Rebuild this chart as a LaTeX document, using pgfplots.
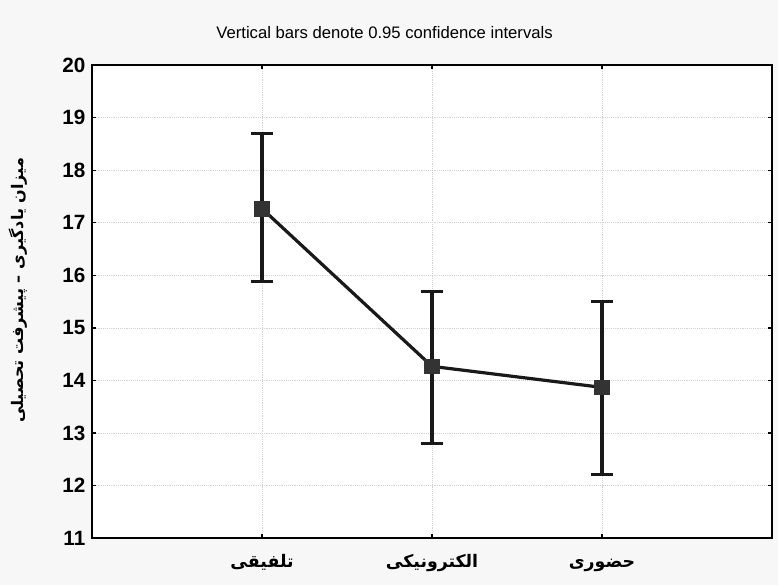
\documentclass[border=0pt]{standalone}
\usepackage{fontspec}
\setmainfont{Liberation Sans}
\newfontfamily\fa[Script=Arabic]{DejaVu Sans}
\TeXXeTstate=1
\usepackage{pgfplots}
\pgfplotsset{compat=1.18}
\definecolor{bg}{RGB}{247,247,247}
\definecolor{mk}{RGB}{51,51,51}
\begin{document}
\begin{tikzpicture}
\fill[bg] (-69pt,-35.25pt) rectangle (514.5pt,403.75pt);
\begin{axis}[
  at={(0,0)}, anchor=south west,
  scale only axis, width=510pt, height=355pt,
  xmin=0, xmax=4, ymin=11, ymax=20,
  xtick={1,2,3},
  xticklabels={{\fa\bfseries\beginR تلفیقی\endR},{\fa\bfseries\beginR الکترونیکی\endR},{\fa\bfseries\beginR حضوری\endR}},
  ytick={11,12,...,20},
  /pgf/number format/assume math mode=true,
  yticklabel style={font=\fontsize{15.5}{18}\selectfont\bfseries, xshift=-1.5pt},
  xticklabel style={font=\fontsize{13}{15}\selectfont, anchor=base, yshift=-22pt},
  tick align=inside, major tick length=3pt,
  tick style={black, line width=1pt},
  axis line style={black, line width=1.5pt},
  grid=major,
  grid style={densely dotted, gray!35, line width=0.6pt},
  axis background/.style={fill=white},
  clip=false,
]
\addplot[black!90, line width=2.4pt, mark=square*, mark size=5.5pt,
  mark options={fill=mk, draw=mk, line width=0.5pt},
  error bars/.cd, y dir=both, y explicit,
  error bar style={black!90, line width=2.4pt},
  error mark options={black!90, line width=2.4pt, mark size=8pt, rotate=90}]
coordinates {
  (1,17.27) += (0,1.43) -= (0,1.38)
  (2,14.27) += (0,1.43) -= (0,1.46)
  (3,13.87) += (0,1.64) -= (0,1.66)
};
\end{axis}
\node[font=\fontsize{12.5}{14}\selectfont] at (219.4pt,379pt) {Vertical bars denote 0.95 confidence intervals};
\node[rotate=90, font=\fa\bfseries\fontsize{12}{14}\selectfont] at (-55.5pt,186pt) {\beginR میزان یادگیری – پیشرفت تحصیلی\endR};
\end{tikzpicture}
\end{document}
